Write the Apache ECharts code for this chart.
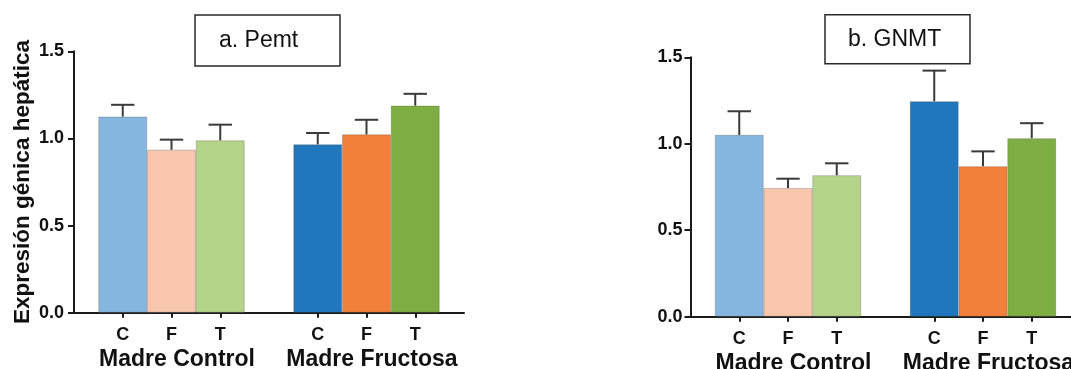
<!DOCTYPE html>
<html>
<head>
<meta charset="utf-8">
<script src="https://cdn.jsdelivr.net/npm/echarts@6/dist/echarts.min.js"></script>
<style>
  html, body { margin: 0; padding: 0; background: #fff; }
  #chart { width: 1071px; height: 369px; }
</style>
</head>
<body>
<div id="chart"></div>
<script>
// Treatment groups (offspring) within each maternal group
const treatments = ['C', 'F', 'T'];
const motherGroups = ['Madre Control', 'Madre Fructosa'];

// Relative hepatic expression: mean and SEM per mother group (C, F, T)
const pemtMean = [[1.125, 0.935, 0.989], [0.966, 1.023, 1.188]];
const pemtSem  = [[0.068, 0.058, 0.090], [0.065, 0.084, 0.068]];
const gnmtMean = [[1.051, 0.744, 0.818], [1.246, 0.870, 1.032]];
const gnmtSem  = [[0.137, 0.054, 0.069], [0.177, 0.086, 0.087]];

const yTicks = [0, 0.5, 1.0, 1.5];
const yAxisTitle = 'Expresión génica hepática';
const panelTitles = ['a. Pemt', 'b. GNMT'];

// Bar fills: light shades for Madre Control, saturated for Madre Fructosa
const barColors = [
  ['#86b6e0', '#f8c6ad', '#b5d48a'],
  ['#2077bd', '#f3803a', '#7eae42']
];

// Category slots: an empty slot before, between and after the two groups
const slots = [];
const slotGroupLabel = [];
const slotRef = [];
slots.push(''); slotGroupLabel.push(''); slotRef.push(null);
motherGroups.forEach((g, gi) => {
  treatments.forEach((t, ti) => {
    slots.push(t);
    slotGroupLabel.push(ti === 1 ? g : '');
    slotRef.push([gi, ti]);
  });
  slots.push(''); slotGroupLabel.push(''); slotRef.push(null);
});

const FONT = 'Liberation Sans, Arial, sans-serif';

function barData(mean) {
  return slotRef.map(r => r === null ? '-' : {
    value: mean[r[0]][r[1]],
    itemStyle: { color: barColors[r[0]][r[1]] }
  });
}
function errData(mean, sem) {
  const out = [];
  slotRef.forEach((r, i) => {
    if (r !== null) {
      const m = mean[r[0]][r[1]];
      out.push([i, m, m + sem[r[0]][r[1]]]);
    }
  });
  return out;
}

// Upper error bar: stem from the bar top plus a horizontal cap
function renderErr(params, api) {
  const x = api.value(0);
  const lo = api.coord([x, api.value(1)]);
  const hi = api.coord([x, api.value(2)]);
  const half = api.size([1, 0])[0] * 0.24;
  const style = { stroke: '#3a3a3a', lineWidth: 2 };
  return {
    type: 'group',
    children: [
      { type: 'line', shape: { x1: lo[0], y1: lo[1], x2: hi[0], y2: hi[1] }, style },
      { type: 'line', shape: { x1: hi[0] - half, y1: hi[1], x2: hi[0] + half, y2: hi[1] }, style }
    ]
  };
}

// The second panel runs past the right edge of the canvas
const grids = [
  { left: 74, top: 51.3, width: 390, height: 261.4, outerBoundsMode: 'none' },
  { left: 690.5, top: 57.3, width: 390, height: 259.4, outerBoundsMode: 'none' }
];

const xAxes = [];
const yAxes = [];
const series = [];
const panels = [
  { mean: pemtMean, sem: pemtSem, labelMargin: 10, showName: true },
  { mean: gnmtMean, sem: gnmtSem, labelMargin: 8, showName: false }
];

panels.forEach((p, k) => {
  xAxes.push({
    type: 'category', gridIndex: k, data: slots, boundaryGap: false,
    axisLine: { lineStyle: { color: '#1a1a1a', width: 2 } },
    axisTick: { length: 5, lineStyle: { color: '#1a1a1a', width: 2 },
                interval: (i, v) => v !== '' },
    axisLabel: { interval: 0, margin: 13, color: '#111', fontFamily: FONT,
                 fontWeight: 'bold', fontSize: 18 }
  });
  xAxes.push({
    type: 'category', gridIndex: k, data: slotGroupLabel, boundaryGap: false,
    position: 'bottom',
    axisLine: { show: false }, axisTick: { show: false },
    axisLabel: { interval: 0, margin: 35, color: '#111', fontFamily: FONT,
                 fontWeight: 'bold', fontSize: 23, padding: [0, 0, 0, 11] }
  });
  yAxes.push({
    type: 'value', gridIndex: k, min: yTicks[0], max: yTicks[yTicks.length - 1],
    interval: yTicks[1] - yTicks[0],
    splitLine: { show: false },
    axisLine: { show: true, lineStyle: { color: '#1a1a1a', width: 2 } },
    axisTick: { show: true, length: 6, lineStyle: { color: '#1a1a1a', width: 2 } },
    axisLabel: { margin: p.labelMargin, color: '#111', fontFamily: FONT,
                 fontWeight: 'bold', fontSize: 18, formatter: v => v.toFixed(1) },
    name: p.showName ? yAxisTitle : '',
    nameLocation: 'middle', nameGap: 40, nameRotate: 90,
    nameTextStyle: { color: '#111', fontFamily: FONT, fontWeight: 'bold', fontSize: 22.5 }
  });
  series.push({
    type: 'bar', xAxisIndex: 2 * k, yAxisIndex: k, barWidth: '100%',
    data: barData(p.mean),
    itemStyle: { borderColor: 'rgba(70,70,70,0.35)', borderWidth: 0.8 },
    silent: true
  });
  series.push({
    type: 'custom', xAxisIndex: 2 * k, yAxisIndex: k,
    data: errData(p.mean, p.sem),
    encode: { x: 0, y: [1, 2] },
    renderItem: renderErr, z: 3, silent: true
  });
});

const titles = [
  { text: panelTitles[0], left: 195, top: 15, padding: [14, 42, 14, 24] },
  { text: panelTitles[1], left: 825, top: 14.7, padding: [13, 29, 13, 23] }
].map(t => Object.assign(t, {
  borderColor: '#2a2a2a', borderWidth: 1.5,
  textStyle: { color: '#111', fontFamily: FONT, fontWeight: 'normal', fontSize: 23 }
}));

const chart = echarts.init(document.getElementById('chart'), null, { renderer: 'canvas' });
chart.setOption({
  animation: false,
  backgroundColor: '#ffffff',
  title: titles,
  grid: grids,
  xAxis: xAxes,
  yAxis: yAxes,
  series: series
});
</script>
</body>
</html>
